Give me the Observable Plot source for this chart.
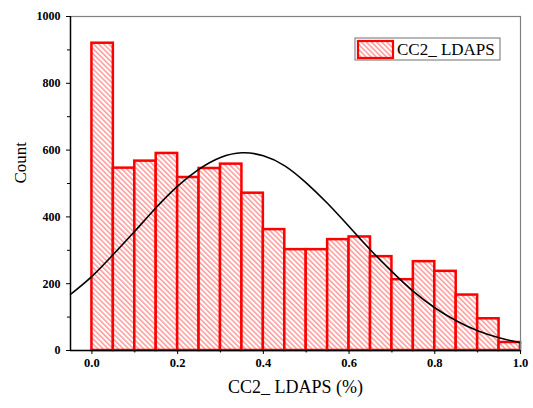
<!DOCTYPE html>
<html>
<head>
<meta charset="utf-8">
<script src="https://cdn.jsdelivr.net/npm/d3@7"></script>
<script src="https://cdn.jsdelivr.net/npm/@observablehq/plot@0.6"></script>
<style>
  html, body { margin: 0; padding: 0; background: #fff; }
  #chart { width: 533px; height: 408px; }
</style>
</head>
<body>
<div id="chart"></div>
<script>
// Histogram bins (left edges) and counts
const binStarts = [0.00, 0.05, 0.10, 0.15, 0.20, 0.25, 0.30, 0.35, 0.40, 0.45,
                   0.50, 0.55, 0.60, 0.65, 0.70, 0.75, 0.80, 0.85, 0.90, 0.95];
const binWidth = 0.05;
const counts = [920, 546, 567, 590, 518, 545, 558, 471, 362, 302,
                302, 332, 340, 281, 212, 266, 237, 166, 95, 24];

// Fitted curve
const curveX = [-0.05, 0.00, 0.05, 0.10, 0.15, 0.20, 0.25, 0.30, 0.35, 0.40, 0.45,
                0.50, 0.55, 0.60, 0.65, 0.70, 0.75, 0.80, 0.85, 0.90, 0.95, 1.00];
const curveY = [168, 222, 288, 357, 428, 492, 543, 578, 592, 583, 553,
                502, 440, 371, 301, 236, 177, 128, 89, 59, 38, 23];

// Axis ticks
const xTicks = [0.0, 0.2, 0.4, 0.6, 0.8, 1.0];
const xMinorTicks = [0.1, 0.3, 0.5, 0.7, 0.9];
const yTicks = [0, 200, 400, 600, 800, 1000];
const yMinorTicks = [100, 300, 500, 700, 900];

const seriesName = "CC2_ LDAPS";
const xTitle = "CC2_ LDAPS (%)";
const yTitle = "Count";

const bars = binStarts.map((s, i) => ({x1: s, x2: s + binWidth, y: counts[i]}));
const curve = curveX.map((x, i) => ({x, y: curveY[i]}));

const font = "'Liberation Serif', 'Times New Roman', serif";

const plot = Plot.plot({
  width: 533,
  height: 408,
  marginLeft: 70,
  marginRight: 13,
  marginTop: 16,
  marginBottom: 58,
  style: {fontFamily: font, background: "#fff", overflow: "visible", color: "#000"},
  x: {domain: [-0.05, 1.0]},
  y: {domain: [0, 1000]},
  marks: [
    Plot.rectY(bars, {x1: "x1", x2: "x2", y: "y", fill: "url(#hatch)", stroke: "#ff0000", strokeWidth: 2.5}),
    Plot.line(curve, {x: "x", y: "y", stroke: "#000", strokeWidth: 1.6, curve: "natural"}),
    Plot.frame({stroke: "#808080", strokeWidth: 1.2}),
    Plot.ruleX([-0.05], {stroke: "#000", strokeWidth: 1.4}),
    Plot.ruleY([0], {stroke: "#000", strokeWidth: 1.4}),
    Plot.axisY({ticks: yTicks, tickSize: 4, tickPadding: 6, fontSize: 12, label: null, tickFormat: d => String(d)}),
    Plot.axisY({ticks: yMinorTicks, tickSize: 3, tickFormat: () => "", label: null}),
    Plot.axisX({ticks: xTicks, tickSize: 4, tickPadding: 4, fontSize: 12.5, label: null, tickFormat: d3.format(".1f")}),
    Plot.axisX({ticks: xMinorTicks, tickSize: 2.5, tickFormat: () => "", label: null}),
    Plot.text([yTitle], {frameAnchor: "left", dx: -50, rotate: -90, fontSize: 17, fill: "#000"}),
    Plot.text([xTitle], {frameAnchor: "bottom", dy: 42, fontSize: 18, fill: "#000"})
  ]
});

// hatch pattern
const svg = d3.select(plot);
const defs = svg.insert("defs", ":first-child");
const pat = defs.append("pattern")
  .attr("id", "hatch")
  .attr("patternUnits", "userSpaceOnUse")
  .attr("width", 3.6).attr("height", 3.6)
  .attr("patternTransform", "rotate(45)");
pat.append("rect").attr("width", 3.6).attr("height", 3.6).attr("fill", "#fff");
pat.append("line").attr("x1", 0).attr("y1", 1).attr("x2", 3.6).attr("y2", 1)
  .attr("stroke", "#ff4040").attr("stroke-width", 1).attr("stroke-opacity", 0.8);

// bold serif tick labels
svg.selectAll('g[aria-label$="tick label"]')
  .attr("font-weight", "bold").attr("font-family", font).attr("fill", "#000");
svg.selectAll('g[aria-label$="tick label"] text')
  .style("font-weight", "bold").style("font-family", font);

// legend
const lg = svg.append("g").attr("font-family", font).attr("text-anchor", "start");
lg.append("rect").attr("x", 355).attr("y", 38).attr("width", 145).attr("height", 22)
  .attr("fill", "#fff").attr("stroke", "#707070").attr("stroke-width", 1);
lg.append("rect").attr("x", 358).attr("y", 41).attr("width", 35).attr("height", 17)
  .attr("fill", "url(#hatch)").attr("stroke", "#ff0000").attr("stroke-width", 2.2);
lg.append("text").attr("x", 397).attr("y", 55).attr("font-size", 17).attr("fill", "#000")
  .attr("text-anchor", "start").text(seriesName);

document.getElementById("chart").appendChild(plot);
</script>
</body>
</html>
